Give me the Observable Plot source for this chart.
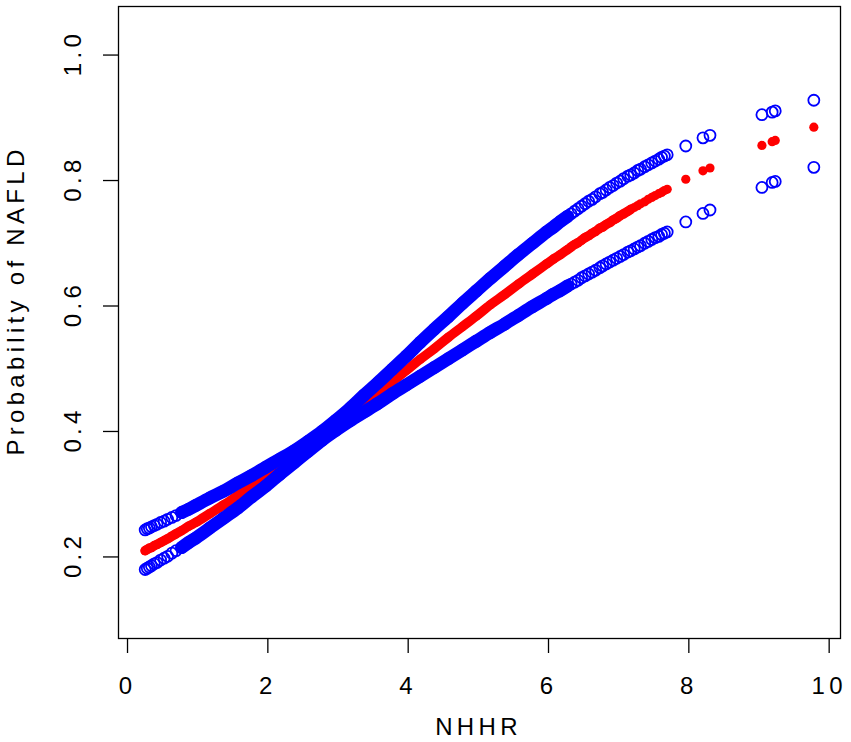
<!DOCTYPE html>
<html>
<head>
<meta charset="utf-8">
<script src="https://cdn.jsdelivr.net/npm/d3@7"></script>
<script src="https://cdn.jsdelivr.net/npm/@observablehq/plot@0.6"></script>
<style>
  html, body { margin: 0; padding: 0; background: #fff; }
</style>
</head>
<body>
<div id="chart"></div>
<script>
// NHHR values (x)
const nhhr = [
  0.28, 0.31, 0.34, 0.37, 0.41, 0.45, 0.50, 0.55, 0.60, 0.66, 0.72, 0.80,
  0.90, 1.0, 1.2, 1.4, 1.6, 1.8, 2.0, 2.2, 2.4, 2.6, 2.8, 3.0,
  3.2, 3.4, 3.6, 3.8, 4.0, 4.2, 4.4, 4.6, 4.8, 5.0, 5.2, 5.4,
  5.6, 5.8, 6.0, 6.1, 6.2, 6.3, 6.35, 6.4, 6.45, 6.5, 6.55, 6.6,
  6.65, 6.7, 6.76, 6.8, 6.85, 6.9, 6.95, 7.0, 7.05, 7.1, 7.16, 7.2,
  7.25, 7.3, 7.34, 7.4, 7.45, 7.5, 7.55, 7.6, 7.64, 7.68, 7.72,
  7.985, 8.23, 8.33, 9.07, 9.216, 9.26, 9.81
];
// predicted probability of NAFLD (red)
const prob = [
  0.210, 0.212, 0.214, 0.215, 0.218, 0.220, 0.223, 0.226, 0.229, 0.233, 0.237, 0.242,
  0.249, 0.255, 0.269, 0.283, 0.298, 0.313, 0.328, 0.344, 0.360, 0.376, 0.393, 0.410,
  0.427, 0.444, 0.462, 0.479, 0.497, 0.515, 0.532, 0.550, 0.567, 0.584, 0.602, 0.618,
  0.635, 0.651, 0.667, 0.675, 0.682, 0.690, 0.694, 0.698, 0.701, 0.705, 0.709, 0.712,
  0.716, 0.719, 0.724, 0.726, 0.730, 0.733, 0.737, 0.740, 0.744, 0.747, 0.751, 0.754,
  0.757, 0.760, 0.763, 0.766, 0.770, 0.773, 0.776, 0.779, 0.781, 0.784, 0.786,
  0.802, 0.8155, 0.820, 0.856, 0.862, 0.864, 0.885
];
// upper confidence bound (blue)
const upper = [
  0.243, 0.245, 0.246, 0.248, 0.250, 0.252, 0.255, 0.257, 0.260, 0.263, 0.266, 0.271,
  0.276, 0.282, 0.294, 0.305, 0.318, 0.330, 0.343, 0.356, 0.369, 0.384, 0.400, 0.418,
  0.437, 0.458, 0.478, 0.499, 0.520, 0.542, 0.563, 0.583, 0.604, 0.624, 0.644, 0.663,
  0.682, 0.700, 0.718, 0.726, 0.735, 0.743, 0.747, 0.751, 0.755, 0.759, 0.763, 0.767,
  0.770, 0.774, 0.779, 0.781, 0.785, 0.789, 0.792, 0.796, 0.799, 0.803, 0.807, 0.809,
  0.812, 0.816, 0.818, 0.822, 0.825, 0.828, 0.831, 0.834, 0.837, 0.839, 0.841,
  0.855, 0.868, 0.872, 0.905, 0.909, 0.911, 0.928
];
// lower confidence bound (blue)
const lower = [
  0.180, 0.182, 0.184, 0.186, 0.189, 0.191, 0.195, 0.198, 0.201, 0.206, 0.210, 0.215,
  0.223, 0.230, 0.246, 0.262, 0.278, 0.296, 0.313, 0.332, 0.350, 0.368, 0.386, 0.402,
  0.417, 0.431, 0.445, 0.460, 0.474, 0.488, 0.502, 0.516, 0.530, 0.544, 0.558, 0.571,
  0.585, 0.599, 0.612, 0.619, 0.625, 0.632, 0.635, 0.638, 0.641, 0.645, 0.648, 0.651,
  0.654, 0.657, 0.661, 0.664, 0.667, 0.670, 0.673, 0.676, 0.679, 0.682, 0.686, 0.688,
  0.691, 0.694, 0.696, 0.700, 0.703, 0.706, 0.709, 0.711, 0.714, 0.716, 0.718,
  0.734, 0.7475, 0.753, 0.789, 0.797, 0.7985, 0.821
];
const xTicks = [0, 2, 4, 6, 8, 10];
const yTicks = [0.2, 0.4, 0.6, 0.8, 1.0];
const xLabel = "NHHR";
const yLabel = "Probability of NAFLD";

const rows = nhhr.map((x, i) => ({x, prob: prob[i], upper: upper[i], lower: lower[i]}));
// dense stretches where the overlapping points form a solid band
const redDense = rows.filter(d => d.x <= 7.2);
const blueDense = rows.filter(d => d.x >= 0.8 && d.x <= 6.3);

const font = "'Liberation Sans', Arial, Helvetica, sans-serif";

const chart = Plot.plot({
  width: 851,
  height: 742,
  marginLeft: 118,
  marginRight: 11,
  marginTop: 6,
  marginBottom: 104,
  style: {fontFamily: font, letterSpacing: "4.3px", color: "black", background: "white"},
  x: {domain: [-0.1, 10.19]},
  y: {domain: [0.07, 1.0774]},
  marks: [
    // red fitted probability (drawn underneath)
    Plot.line(redDense, {x: "x", y: "prob", stroke: "red", strokeWidth: 9.6, strokeLinecap: "round", curve: "monotone-x"}),
    Plot.dot(rows, {x: "x", y: "prob", r: 4.6, fill: "red", stroke: "none"}),
    // blue confidence bounds
    Plot.line(blueDense, {x: "x", y: "upper", stroke: "blue", strokeWidth: 13, strokeLinecap: "round", curve: "monotone-x"}),
    Plot.line(blueDense, {x: "x", y: "lower", stroke: "blue", strokeWidth: 13, strokeLinecap: "round", curve: "monotone-x"}),
    Plot.dot(rows, {x: "x", y: "upper", r: 5.5, stroke: "blue", strokeWidth: 1.8, fill: "none"}),
    Plot.dot(rows, {x: "x", y: "lower", r: 5.5, stroke: "blue", strokeWidth: 1.8, fill: "none"}),
    Plot.frame({stroke: "black", strokeWidth: 1.3}),
    // x axis
    Plot.axisX({ticks: xTicks, tickSize: 15, tickPadding: 23, fontSize: 24, label: null,
                tickFormat: d => String(d), strokeWidth: 1.3, dx: 2}),
    // y axis ticks
    Plot.axisY({ticks: yTicks, tickSize: 15, tickFormat: () => "", label: null, strokeWidth: 1.3}),
    // y tick labels, rotated like R's default
    Plot.text(yTicks, {y: d => d, text: d => d.toFixed(1), frameAnchor: "left", textAnchor: "middle",
                       dx: -45, dy: -2, rotate: -90, fontSize: 24, fill: "black"}),
    // axis titles
    Plot.text([xLabel], {frameAnchor: "bottom", textAnchor: "middle", dy: 79, dx: -1, lineAnchor: "top",
                         fontSize: 24, fill: "black"}),
    Plot.text([yLabel], {frameAnchor: "left", textAnchor: "middle", dx: -102, dy: -22, rotate: -90,
                         fontSize: 24, fill: "black"})
  ]
});
document.getElementById("chart").appendChild(chart);
</script>
</body>
</html>
